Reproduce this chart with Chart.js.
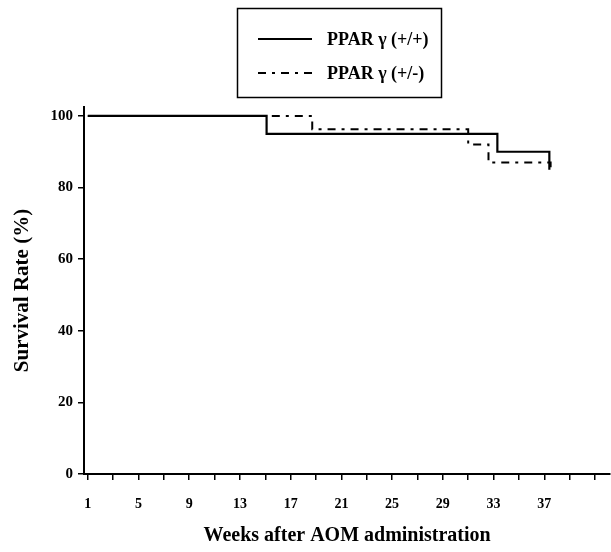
<!DOCTYPE html>
<html>
  <head>
    <meta charset="utf-8">
    <title>Survival Rate</title>
    <script src="https://cdn.jsdelivr.net/npm/chart.js"></script>
    <style>
      body { margin: 0; background: #fff; }
    </style>
  </head>
  <body>
    <div style="width:611px; height:552px">
      <canvas id="SurvChart"></canvas>
    </div>
    <script>
	// x axis: tick marks every 2 weeks, labels every 4
	var weekTicks = [1, 3, 5, 7, 9, 11, 13, 15, 17, 19, 21, 23, 25, 27, 29, 31, 33, 35, 37, 39, 41];
	var weekLabels = [1, 5, 9, 13, 17, 21, 25, 29, 33, 37];
	var rateTicks = [0, 20, 40, 60, 80, 100];

	// step points (week, survival %)
	var wildWeeks = [1, 15.1, 33.3, 37.4];
	var wildRates = [100, 95, 90, 85];
	var hetWeeks = [1, 18.7, 31.0, 32.6, 37.5];
	var hetRates = [100, 96.3, 92, 87, 85.6];

	function toPoints(xs, ys) {
		return xs.map(function(x, i) { return { x: x, y: ys[i] }; });
	}

	var serif = '"Liberation Serif", "Times New Roman", serif';

	// boxed legend in the top middle
	const boxLegend = {
		id: 'boxLegend',
		afterDraw: function(chart) {
			var ctx = chart.ctx;
			ctx.save();
			ctx.strokeStyle = '#000';
			ctx.lineWidth = 1.5;
			ctx.strokeRect(237.5, 8.5, 204, 89);
			chart.data.datasets.forEach(function(ds, i) {
				var y = 39 + i * 34;
				ctx.beginPath();
				ctx.setLineDash(ds.borderDash || []);
				ctx.lineWidth = 2;
				ctx.strokeStyle = ds.borderColor;
				ctx.moveTo(258, y);
				ctx.lineTo(312, y);
				ctx.stroke();
				ctx.setLineDash([]);
				ctx.fillStyle = '#000';
				ctx.font = 'bold 18px ' + serif;
				ctx.textBaseline = 'middle';
				ctx.textAlign = 'left';
				ctx.fillText(ds.label, 327, y + 1);
			});
			ctx.restore();
		}
	};

	const survData = {
		datasets: [{
			label: 'PPAR \u03b3 (+/+)',
			data: toPoints(wildWeeks, wildRates),
			borderColor: '#000',
			borderWidth: 2.2,
			stepped: 'before',
			pointRadius: 0,
			fill: false
		}, {
			label: 'PPAR \u03b3 (+/-)',
			data: toPoints(hetWeeks, hetRates),
			borderColor: '#000',
			borderWidth: 2,
			borderDash: [8, 6, 3, 6],
			stepped: 'before',
			pointRadius: 0,
			fill: false
		}]
	};

	const survConfig = {
		type: 'line',
		data: survData,
		plugins: [boxLegend],
		options: {
			responsive: true,
			maintainAspectRatio: false,
			animation: false,
			layout: { padding: { top: 107, left: 0, right: 0, bottom: 0 } },
			plugins: {
				legend: { display: false },
				tooltip: { enabled: false }
			},
			scales: {
				x: {
					type: 'linear',
					min: 0.7,
					max: 42.2,
					afterBuildTicks: function(scale) {
						scale.ticks = weekTicks.map(function(v) { return { value: v }; });
					},
					afterFit: function(scale) { scale.height = 78; },
					border: { color: '#000', width: 2 },
					grid: { drawOnChartArea: false, drawTicks: true, tickLength: 6, color: '#000', lineWidth: 1.5 },
					ticks: {
						autoSkip: false,
						maxRotation: 0,
						padding: 16,
						color: '#000',
						font: { family: serif, size: 14, weight: 'bold' },
						callback: function(v) { return weekLabels.indexOf(v) >= 0 ? String(v) : ''; }
					},
					title: {
						display: true,
						text: 'Weeks after AOM administration',
						color: '#000',
						font: { family: serif, size: 20, weight: 'bold' },
						padding: { top: 0, bottom: 4 }
					}
				},
				y: {
					min: 0,
					max: 102.5,
					afterBuildTicks: function(scale) {
						scale.ticks = rateTicks.map(function(v) { return { value: v }; });
					},
					afterFit: function(scale) { scale.width = 84; },
					border: { color: '#000', width: 2 },
					grid: { drawOnChartArea: false, drawTicks: true, tickLength: 6, color: '#000', lineWidth: 1.5 },
					ticks: {
						padding: 5,
						color: '#000',
						font: { family: serif, size: 15, weight: 'bold' }
					},
					title: {
						display: true,
						text: 'Survival Rate (%)',
						color: '#000',
						font: { family: serif, size: 21, weight: 'bold' },
						padding: { top: 10, bottom: 0 }
					}
				}
			}
		}
	};

	const SurvChart = new Chart(document.getElementById('SurvChart'), survConfig);
    </script>
  </body>
</html>
